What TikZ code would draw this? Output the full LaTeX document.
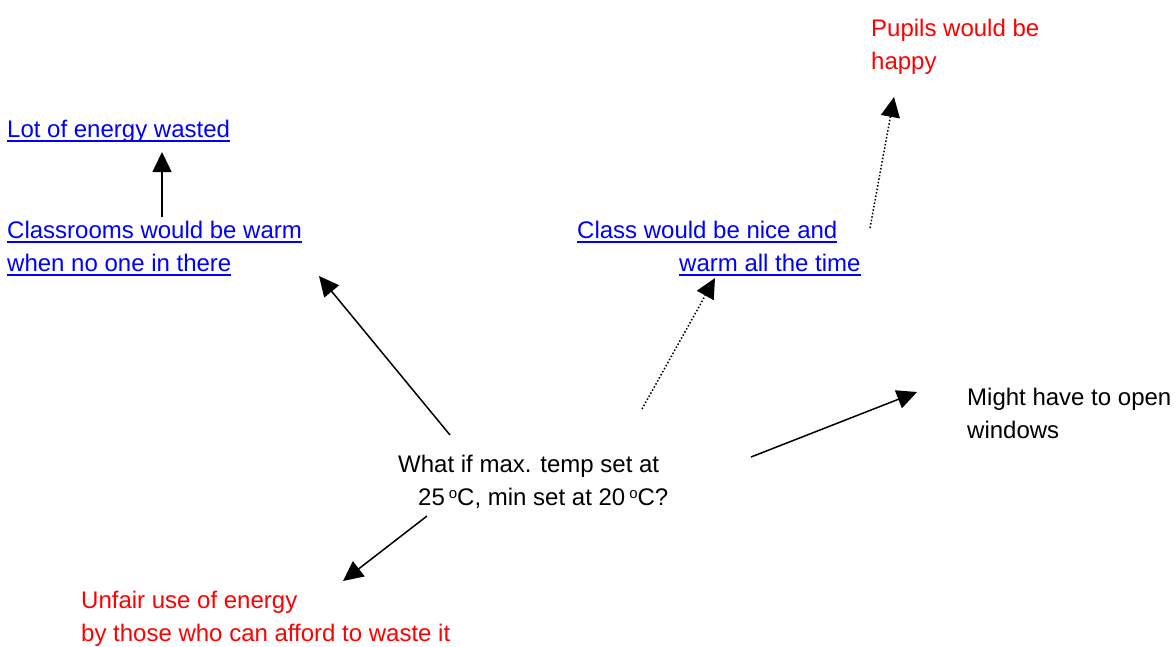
\documentclass[tikz,border=0pt]{standalone}
\usepackage{fontspec}
\setmainfont{Liberation Sans}
\usetikzlibrary{arrows.meta}
\definecolor{linkblue}{RGB}{0,0,255}
\definecolor{txtred}{RGB}{255,0,0}
\newcommand{\myul}[1]{\setbox0\hbox{#1}\rlap{\rule[-4.5pt]{\wd0}{2pt}}\box0}
\newcommand{\mydegsign}{\hspace{4pt}\raisebox{6.5pt}{\fontsize{15}{15}\selectfont o}}
\begin{document}
\begin{tikzpicture}[x=1pt,y=-1pt,
  lbl/.style={anchor=base west,inner sep=0pt,align=left,font=\fontsize{24}{33}\selectfont},
  blue lbl/.style={lbl,text=linkblue},
  red lbl/.style={lbl,text=txtred},
  arr/.style={line width=1.5pt,-{Triangle[length=20pt,width=19pt]}},
  darr/.style={arr,dotted}]
\useasboundingbox (0,0) rectangle (1175,646);
\renewcommand{\arraystretch}{1}
\node[red lbl] (pupils) at (871,36) {\begin{tabular}[t]{@{}l@{}}Pupils would be\\happy\end{tabular}};
\node[blue lbl] (lot) at (7,137) {\myul{Lot of energy wasted}};
\node[blue lbl] (class) at (7,238) {\begin{tabular}[t]{@{}l@{}}\myul{Classrooms would be warm}\\\myul{when no one in there}\end{tabular}};
\node[blue lbl] (nice) at (577,238) {\begin{tabular}[t]{@{}l@{}}\myul{Class would be nice and}\\\hspace{102pt}\myul{warm all the time}\end{tabular}};
\node[lbl] (windows) at (967,405) {\begin{tabular}[t]{@{}l@{}}Might have to open\\windows\end{tabular}};
\node[lbl] (whatif) at (398,472) {\begin{tabular}[t]{@{}l@{}}What if max. temp set at\\\hspace{20pt}25\mydegsign C, min set at 20\mydegsign C?\end{tabular}};
\node[red lbl] (unfair) at (81,608) {\begin{tabular}[t]{@{}l@{}}Unfair use of energy\\by those who can afford to waste it\end{tabular}};

\coordinate (a1s) at (162,217); \coordinate (a1e) at (162,152);
\coordinate (a2s) at (450,435); \coordinate (a2e) at (319,276);
\coordinate (a3s) at (642,409); \coordinate (a3e) at (715,278);
\coordinate (a4s) at (870,228); \coordinate (a4e) at (894,97);
\coordinate (a5s) at (751,457); \coordinate (a5e) at (917,392);
\coordinate (a6s) at (427,516); \coordinate (a6e) at (343,581);

\draw[arr] (a1s) -- (a1e);
\draw[arr] (a2s) -- (a2e);
\draw[darr] (a3s) -- (a3e);
\draw[darr] (a4s) -- (a4e);
\draw[arr] (a5s) -- (a5e);
\draw[arr] (a6s) -- (a6e);
\end{tikzpicture}
\end{document}
